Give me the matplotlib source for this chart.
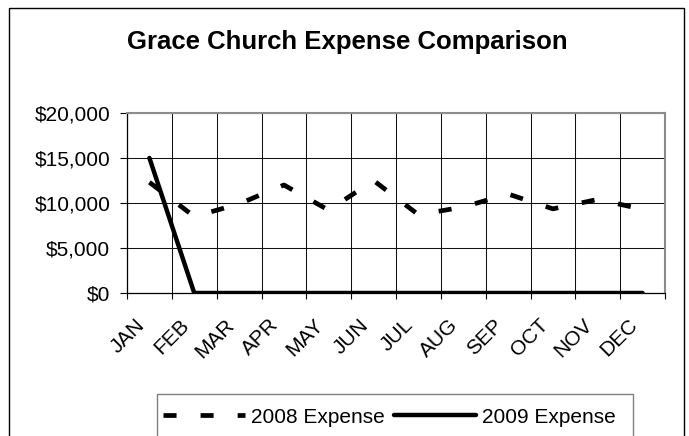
import matplotlib
matplotlib.use('Agg')
import matplotlib.pyplot as plt
import numpy as np
from matplotlib.patches import Rectangle
from matplotlib.transforms import ScaledTranslation

months = ['JAN', 'FEB', 'MAR', 'APR', 'MAY', 'JUN', 'JUL', 'AUG', 'SEP', 'OCT', 'NOV', 'DEC']
expense_2008 = [12300, 8500, 9900, 12000, 9200, 12500, 8700, 9550, 11000, 9350, 10400, 9300]
expense_2009 = [15000, 0, 0, 0, 0, 0, 0, 0, 0, 0, 0, 0]
y_ticks = [0, 5000, 10000, 15000, 20000]
y_labels = ['$0', '$5,000', '$10,000', '$15,000', '$20,000']
series_names = ['2008 Expense', '2009 Expense']
title = 'Grace Church Expense Comparison'

plt.rcParams['font.family'] = ['Liberation Sans', 'DejaVu Sans']
plt.rcParams['lines.scale_dashes'] = False

W, H = 689, 436
fig = plt.figure(figsize=(W / 100, H / 100), dpi=100)
fig.patch.set_facecolor('white')
ax = fig.add_axes([127 / W, 1 - 293 / H, 538 / W, 180 / H])

x = np.arange(len(months))
ax.plot(x, expense_2008, color='black', lw=3.4, linestyle=(0, (9.4, 17.3)),
        dash_capstyle='butt', label=series_names[0], zorder=3)
ax.plot(x, expense_2009, color='black', lw=3.2, solid_capstyle='round',
        label=series_names[1], zorder=4)

ax.set_xlim(-0.5, len(months) - 0.5)
ax.set_ylim(y_ticks[0], y_ticks[-1])
ax.set_xticks(np.arange(-0.5, len(months), 1.0))
ax.tick_params(axis='x', which='major', length=4.5, width=0.8, direction='out',
               labelbottom=False, color='black')
ax.set_xticks(x, months, minor=True, rotation=45, ha='right', va='center',
              rotation_mode='anchor', fontsize=15)
ax.tick_params(axis='x', which='minor', length=0, pad=21)
offset = ScaledTranslation(-8 / 100, 0, fig.dpi_scale_trans)
for lbl in ax.get_xticklabels(minor=True):
    lbl.set_transform(lbl.get_transform() + offset)
ax.set_yticks(y_ticks, y_labels, fontsize=15)
ax.tick_params(axis='y', length=5, width=0.8, pad=7, color='black')
ax.grid(True, which='major', color='#111111', lw=0.75)
ax.set_axisbelow(True)

for s in ['left', 'bottom']:
    ax.spines[s].set_color('black')
    ax.spines[s].set_linewidth(0.9)
for s in ['top', 'right']:
    ax.spines[s].set_color('#8c8c8c')
    ax.spines[s].set_linewidth(1.5)

fig.text(347 / W, 1 - 48.5 / H, title, ha='center', va='baseline',
         fontsize=18.5, fontweight='bold')

fig.add_artist(Rectangle((9 / W, -0.1), (684 - 9) / W, (1 - 8 / H) + 0.1,
                         transform=fig.transFigure, fill=False,
                         edgecolor='black', lw=1.0))
fig.add_artist(Rectangle((157 / W, -0.1), (633 - 157) / W, (1 - 394 / H) + 0.1,
                         transform=fig.transFigure, fill=False,
                         edgecolor='#808080', lw=1.0))

fig.legend(loc='center left', bbox_to_anchor=(163 / W, 1 - 417 / H), ncol=2,
           frameon=False, fontsize=15, handlelength=3.95, handletextpad=0.29,
           columnspacing=0.43, borderpad=0, borderaxespad=0)

fig.savefig('out.png', dpi=100, facecolor='white')
